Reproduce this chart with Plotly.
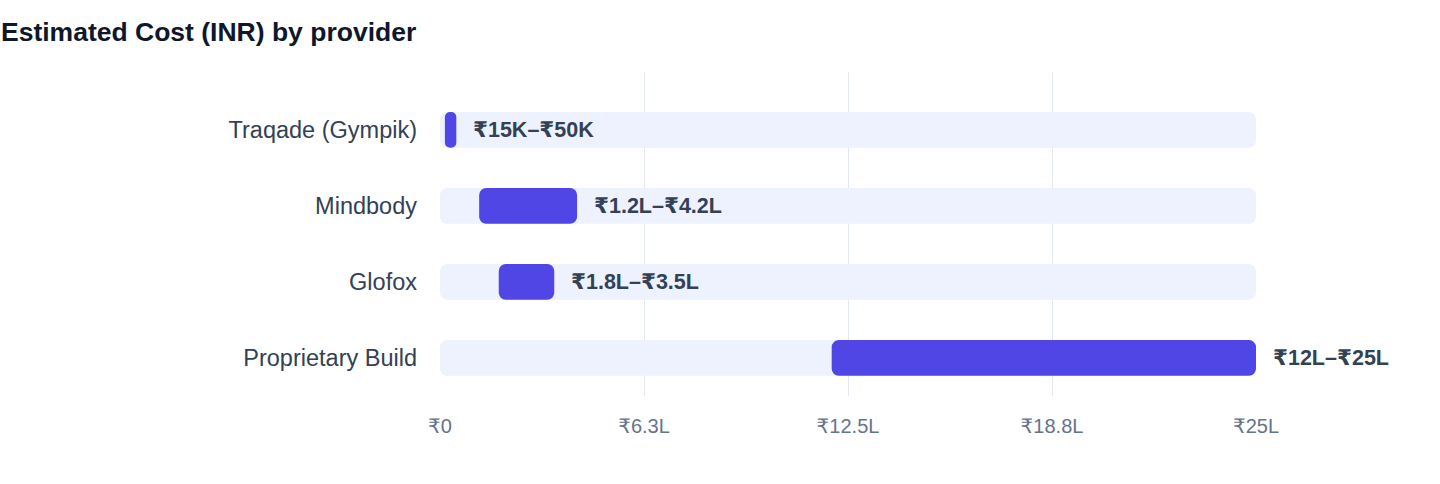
import plotly.graph_objects as go

providers = ["Traqade (Gympik)", "Mindbody", "Glofox", "Proprietary Build"]
low_inr = [15000, 120000, 180000, 1200000]
high_inr = [50000, 420000, 350000, 2500000]
range_labels = ["₹15K–₹50K", "₹1.2L–₹4.2L", "₹1.8L–₹3.5L", "₹12L–₹25L"]
scale_max = 2500000
tick_vals = [0, 625000, 1250000, 1875000, 2500000]
tick_text = ["₹0", "₹6.3L", "₹12.5L", "₹18.8L", "₹25L"]

FONT = "Liberation Sans, Arial, DejaVu Sans, sans-serif"

fig = go.Figure()

# light track behind each range
fig.add_trace(go.Bar(
    y=providers,
    x=[scale_max] * len(providers),
    base=[0] * len(providers),
    orientation="h",
    marker=dict(color="#EEF2FF", line=dict(width=0)),
    width=0.47,
    hoverinfo="skip",
    showlegend=False,
))

# the actual cost range
fig.add_trace(go.Bar(
    y=providers,
    x=[h - l for l, h in zip(low_inr, high_inr)],
    base=low_inr,
    orientation="h",
    marker=dict(color="#4F46E5", line=dict(width=0)),
    width=0.47,
    showlegend=False,
))

for p, h, t in zip(providers, high_inr, range_labels):
    fig.add_annotation(
        x=h, y=p, text="<b>" + t + "</b>",
        showarrow=False, xanchor="left", xshift=15,
        font=dict(family=FONT, size=21.5, color="#334155"),
    )

fig.update_layout(
    width=1440, height=484,
    barmode="overlay",
    barcornerradius=7,
    plot_bgcolor="white",
    paper_bgcolor="white",
    margin=dict(l=440, r=184, t=72, b=88),
    title=dict(
        text="<b>Estimated Cost (INR) by provider</b>",
        x=0, xref="container", xanchor="left",
        y=0.934, yanchor="middle",
        pad=dict(l=1),
        font=dict(family=FONT, size=26.5, color="#0F172A"),
    ),
    xaxis=dict(
        range=[0, scale_max],
        tickvals=tick_vals, ticktext=tick_text,
        showgrid=True, gridcolor="#E2E8F0", gridwidth=1,
        zeroline=False, showline=False,
        ticks="outside", ticklen=12, tickcolor="rgba(0,0,0,0)",
        tickfont=dict(family=FONT, size=20, color="#64748B"),
    ),
    yaxis=dict(
        type="category",
        categoryorder="array",
        categoryarray=providers[::-1],
        range=[-0.5, 3.76],
        showgrid=False, zeroline=False, showline=False,
        ticks="", ticklabelstandoff=22,
        tickfont=dict(family=FONT, size=23.5, color="#334155"),
    ),
)

fig.write_html(
    "out.html",
    config={"displayModeBar": False},
    post_script="document.body.style.margin='0';",
)
